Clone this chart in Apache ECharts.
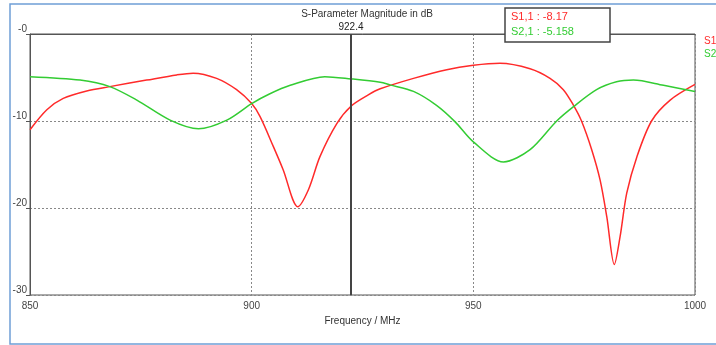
<!DOCTYPE html>
<html>
<head>
<meta charset="utf-8">
<script src="https://cdn.jsdelivr.net/npm/echarts@6/dist/echarts.min.js"></script>
<style>
  html, body { margin: 0; padding: 0; background: #fff; }
  #chart { width: 716px; height: 345px; }
</style>
</head>
<body>
<div id="chart"></div>
<script>
// S1,1 (red)
var s11Freq = [850, 853.8, 857.5, 862.8, 868, 876.3, 883.1, 886.8, 892.1, 896.6, 900, 901.9, 904.9, 907.1, 910.4, 912.8, 915.4, 919.2, 922.4, 926.3, 929, 936.5, 944, 950, 956, 962.8, 967.3, 970.3, 972.6, 974.4, 976.7, 978.6, 980.1, 981.8, 983.1, 984.6, 986.9, 990.2, 994.4, 1000]
var s11Db = [-11.0, -8.7, -7.4, -6.55, -6.05, -5.3, -4.7, -4.5, -5.1, -6.4, -8.0, -9.5, -12.95, -15.6, -19.85, -17.9, -14.1, -10.3, -8.3, -7.0, -6.3, -5.1, -4.1, -3.6, -3.37, -4.0, -5.1, -6.4, -8.2, -10.0, -13.3, -16.8, -21.0, -26.5, -23.3, -18.3, -14.1, -10.0, -7.6, -5.8]
// S2,1 (green)
var s21Freq = [850, 861.3, 868, 874.1, 881.6, 888, 894.4, 900, 904, 908.7, 916.5, 922.4, 929, 931.2, 936.5, 941.7, 945.9, 950, 956.8, 962.8, 968.8, 972.6, 977.8, 982.3, 986.1, 992.9, 1000]
var s21Db = [-4.9, -5.3, -6.05, -7.6, -9.9, -10.9, -9.9, -8.0, -6.9, -5.9, -4.9, -5.16, -5.55, -5.85, -6.6, -8.2, -10.1, -12.4, -14.7, -13.3, -10.0, -8.35, -6.4, -5.5, -5.3, -5.9, -6.6]

var markerFreq = 922.4
var markerTexts = ['S1,1 : -8.17', 'S2,1 : -5.158']

var red = '#ff2a2a'
var green = '#33cc33'
var font = 'Liberation Sans'

function pairs(xs, ys) {
  return xs.map(function (x, i) { return [x, ys[i]] })
}

var myChart = echarts.init(document.getElementById('chart'))
var option = {
  animation: false,
  textStyle: { fontFamily: font },
  title: {
    text: 'S-Parameter Magnitude in dB',
    left: 362,
    textAlign: 'center',
    top: 4,
    textStyle: { fontSize: 10, fontWeight: 'normal', color: '#333', fontFamily: font }
  },
  grid: {
    left: 30,
    right: 21,
    top: 34,
    bottom: 50,
    show: true,
    borderColor: '#555',
    borderWidth: 1
  },
  xAxis: {
    type: 'value',
    min: 850,
    max: 1000,
    interval: 50,
    name: 'Frequency / MHz',
    nameLocation: 'middle',
    nameGap: 17,
    nameTextStyle: { fontSize: 10, color: '#333' },
    axisLine: { lineStyle: { color: '#555' } },
    axisTick: { show: false },
    axisLabel: {
      fontSize: 10,
      color: '#444',
      margin: 6,
      formatter: function (v) { return String(v) }
    },
    splitLine: { show: true, lineStyle: { color: '#888', type: [2, 2] } }
  },
  yAxis: {
    type: 'value',
    min: -30,
    max: 0,
    interval: 10,
    axisLine: { show: true, lineStyle: { color: '#555' } },
    axisTick: { show: true, length: 4, lineStyle: { color: '#555' } },
    axisLabel: {
      fontSize: 10,
      color: '#444',
      margin: 3,
      verticalAlign: 'bottom',
      formatter: function (v) { return v === 0 ? '-0' : String(v) }
    },
    splitLine: { show: true, lineStyle: { color: '#888', type: [2, 2] } }
  },
  series: [
    {
      name: 'S1,1',
      type: 'line',
      data: pairs(s11Freq, s11Db),
      smooth: 0.3,
      symbol: 'none',
      lineStyle: { color: red, width: 1.5 },
      z: 3,
      markLine: {
        silent: true,
        symbol: 'none',
        lineStyle: { color: '#444', width: 2, type: 'solid' },
        label: {
          show: true,
          position: 'end',
          formatter: String(markerFreq),
          fontSize: 10,
          color: '#222',
          distance: 2
        },
        data: [{ xAxis: markerFreq }]
      }
    },
    {
      name: 'S2,1',
      type: 'line',
      data: pairs(s21Freq, s21Db),
      smooth: 0.3,
      symbol: 'none',
      lineStyle: { color: green, width: 1.5 },
      z: 3
    }
  ],
  graphic: [
    {
      type: 'rect',
      shape: { x: 10, y: 4, width: 720, height: 340 },
      style: { fill: 'none', stroke: '#6f9fd6', lineWidth: 1.5 },
      silent: true
    },
    {
      type: 'rect',
      shape: { x: 505, y: 8, width: 105, height: 34 },
      style: { fill: '#fff', stroke: '#444', lineWidth: 1.5 },
      z: 10
    },
    {
      type: 'text', left: 511, top: 11, z: 11,
      style: { text: markerTexts[0], fill: red, fontSize: 11, fontFamily: font }
    },
    {
      type: 'text', left: 511, top: 26, z: 11,
      style: { text: markerTexts[1], fill: green, fontSize: 11, fontFamily: font }
    },
    {
      type: 'text', left: 704, top: 36, z: 11,
      style: { text: 'S1,1', fill: red, fontSize: 10, fontFamily: font }
    },
    {
      type: 'text', left: 704, top: 49, z: 11,
      style: { text: 'S2,1', fill: green, fontSize: 10, fontFamily: font }
    }
  ]
}
myChart.setOption(option)
</script>
</body>
</html>
